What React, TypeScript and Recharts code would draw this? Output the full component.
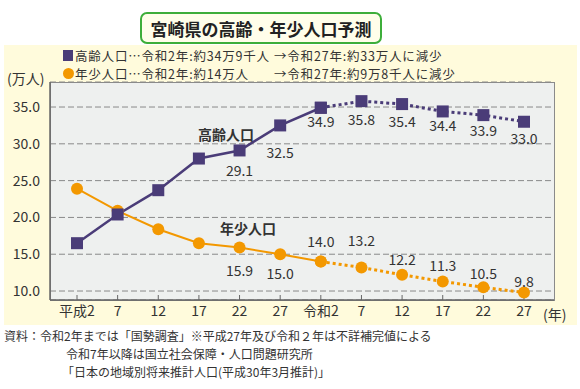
import React from "react";
import { LineChart, Line, XAxis, YAxis, CartesianGrid, LabelList } from "recharts";

const years = ["平成2", "7", "12", "17", "22", "27", "令和2", "7", "12", "17", "22", "27"];
const elderly = [16.5, 20.4, 23.7, 28.0, 29.1, 32.5, 34.9, 35.8, 35.4, 34.4, 33.9, 33.0];
const young = [23.9, 20.9, 18.4, 16.5, 15.9, 15.0, 14.0, 13.2, 12.2, 11.3, 10.5, 9.8];
const yTicks = [10, 15, 20, 25, 30, 35];
// 令和2 (index 6) is the last census point; later values are projections
const lastActual = 6;
const firstLabel = 4;

// label placement relative to the point (text centre, px)
const elderlyLabelDy = [0, 0, 0, 0, 20, 27, 13, 18, 17, 14, 15, 16];
const youngLabelDy = [0, 0, 0, 0, 22, 19, -21, -27, -16, -16, -14, -11];

const NAVY = "#4a3c78";
const ORANGE = "#f39800";
const FONT = '"Noto Sans CJK JP", "Noto Sans", sans-serif';

const chartData = years.map((y, i) => ({
  year: y,
  elderly: elderly[i],
  young: young[i],
  elderlyA: i <= lastActual ? elderly[i] : null,
  elderlyP: i >= lastActual ? elderly[i] : null,
  youngA: i <= lastActual ? young[i] : null,
  youngP: i >= lastActual ? young[i] : null,
}));

function SquareDot(props: any) {
  const { cx, cy, index } = props;
  if (cx == null || cy == null) return <g key={index} />;
  return <rect key={index} x={cx - 6} y={cy - 6} width={12} height={12} fill={NAVY} />;
}

function makeLabel(offsets: number[]) {
  return (props: any) => {
    const { x, y, value, index } = props;
    if (index < firstLabel || value == null) return null;
    return (
      <text
        x={x}
        y={y + offsets[index]}
        textAnchor="middle"
        dominantBaseline="central"
        fontSize={14}
        fill="#333"
        fontFamily={FONT}
      >
        {Number(value).toFixed(1)}
      </text>
    );
  };
}

const legendLine: React.CSSProperties = {
  position: "absolute",
  fontSize: 12.5,
  letterSpacing: 0.8,
  lineHeight: "18px",
  height: 18,
  whiteSpace: "nowrap",
};

export default function App() {
  return (
    <div style={{ position: "absolute", left: 0, top: 0, width: 580, height: 389, background: "#fff", fontFamily: FONT, color: "#333", overflow: "hidden" }}>
      {/* yellow panel */}
      <div style={{ position: "absolute", left: 4, top: 45, width: 573, height: 280, background: "#fffbdc" }} />
      {/* title */}
      <div
        style={{
          position: "absolute", left: 140, top: 12, width: 238, height: 28,
          border: "2px solid #3dae3a", borderRadius: 7, background: "#fffeea",
          display: "flex", alignItems: "center", justifyContent: "center",
          fontSize: 17, fontWeight: 700, color: "#222",
        }}
      >
        宮崎県の高齢・年少人口予測
      </div>
      {/* legend */}
      <div style={{ ...legendLine, left: 63, top: 47 }}>
        <span style={{ display: "inline-block", width: 10, height: 11, background: NAVY, marginRight: 2 }} />
        高齢人口…令和2年:約34万9千人
      </div>
      <div style={{ ...legendLine, left: 274, top: 47 }}>→令和27年:約33万人に減少</div>
      <div style={{ ...legendLine, left: 63, top: 65 }}>
        <span style={{ display: "inline-block", width: 11, height: 11, borderRadius: "50%", background: ORANGE, marginRight: 1 }} />
        年少人口…令和2年:約14万人
      </div>
      <div style={{ ...legendLine, left: 274, top: 65 }}>→令和27年:約9万8千人に減少</div>
      <div style={{ position: "absolute", left: 7, top: 68, fontSize: 14, whiteSpace: "nowrap" }}>(万人)</div>
      {/* plot frame */}
      <div style={{ position: "absolute", left: 50, top: 82, width: 503, height: 217, background: "#eef0ef", border: "1px solid #8a8a8a" }} />
      <div style={{ position: "absolute", left: 0, top: 0 }}>
        <LineChart width={580} height={389} data={chartData} margin={{ top: 82, right: 26, left: 5, bottom: 59 }}>
          <CartesianGrid vertical={false} stroke="#8a8a8a" strokeDasharray="6 3" />
          <XAxis
            dataKey="year"
            padding={{ left: 27, right: 30 }}
            height={30}
            tickSize={-5}
            tickMargin={11}
            interval={0}
            axisLine={{ stroke: "#666", strokeWidth: 1.5 }}
            tickLine={{ stroke: "#666" }}
            tick={{ fill: "#333", fontSize: 14, fontFamily: FONT }}
          />
          <YAxis
            domain={[8.78, 38.4]}
            ticks={yTicks}
            interval={0}
            width={45}
            tickLine={false}
            tickMargin={4}
            axisLine={{ stroke: "#666", strokeWidth: 1.5 }}
            tickFormatter={(v) => Number(v).toFixed(1)}
            tick={{ fill: "#333", fontSize: 14, fontFamily: FONT }}
          />
          <Line dataKey="youngA" stroke={ORANGE} strokeWidth={2} dot={{ r: 6, fill: ORANGE, stroke: "none" }} activeDot={false} isAnimationActive={false} />
          <Line dataKey="youngP" stroke={ORANGE} strokeWidth={3} strokeDasharray="3 3" dot={{ r: 6, fill: ORANGE, stroke: "none" }} activeDot={false} isAnimationActive={false} />
          <Line dataKey="elderlyA" stroke={NAVY} strokeWidth={2.5} dot={<SquareDot />} activeDot={false} isAnimationActive={false} />
          <Line dataKey="elderlyP" stroke={NAVY} strokeWidth={3} strokeDasharray="3 3" dot={<SquareDot />} activeDot={false} isAnimationActive={false} />
          <Line dataKey="elderly" stroke="none" dot={false} activeDot={false} isAnimationActive={false}>
            <LabelList dataKey="elderly" content={makeLabel(elderlyLabelDy)} />
          </Line>
          <Line dataKey="young" stroke="none" dot={false} activeDot={false} isAnimationActive={false}>
            <LabelList dataKey="young" content={makeLabel(youngLabelDy)} />
          </Line>
        </LineChart>
      </div>
      {/* series names */}
      <div style={{ position: "absolute", left: 198, top: 124, fontSize: 14, fontWeight: 700, whiteSpace: "nowrap" }}>高齢人口</div>
      <div style={{ position: "absolute", left: 220, top: 218, fontSize: 14, fontWeight: 700, whiteSpace: "nowrap" }}>年少人口</div>
      <div style={{ position: "absolute", left: 543, top: 304, fontSize: 14, whiteSpace: "nowrap" }}>(年)</div>
      {/* source */}
      <div style={{ position: "absolute", left: 4, top: 327, fontSize: 12, lineHeight: "18px", whiteSpace: "nowrap" }}>
        <div>資料：令和2年までは「国勢調査」※平成27年及び令和２年は不詳補完値による</div>
        <div style={{ paddingLeft: 62 }}>令和7年以降は国立社会保障・人口問題研究所</div>
        <div style={{ paddingLeft: 58 }}>「日本の地域別将来推計人口(平成30年3月推計)」</div>
      </div>
    </div>
  );
}
